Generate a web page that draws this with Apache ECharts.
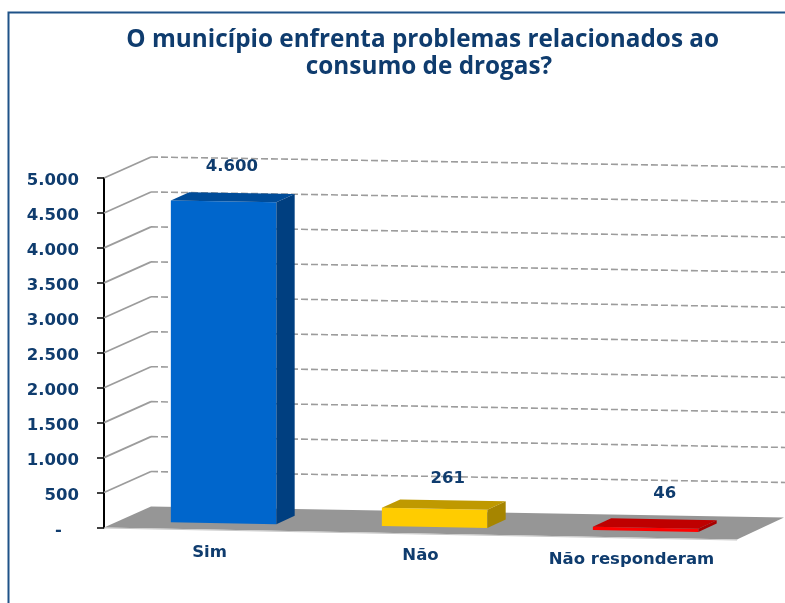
<!DOCTYPE html>
<html><head><meta charset="utf-8">
<style>html,body{margin:0;padding:0;background:#fff}#c{width:785px;height:603px}</style>
<script src="https://cdn.jsdelivr.net/npm/echarts@6/dist/echarts.min.js"></script>
</head><body><div id="c"></div>
<script>
const titleText = 'O município enfrenta problemas relacionados ao  \nconsumo de drogas?';
const categories = ['Sim', 'Não', 'Não responderam'];
const values = [4600, 261, 46];
const valueLabels = ['4.600', '261', '46'];
const gridValues = [500, 1000, 1500, 2000, 2500, 3000, 3500, 4000, 4500, 5000];
const tickLabels = {0:'-', 500:'500', 1000:'1.000', 1500:'1.500', 2000:'2.000', 2500:'2.500', 3000:'3.000', 3500:'3.500', 4000:'4.000', 4500:'4.500', 5000:'5.000'};
const faceColors = [
  ['#0066CC', '#004C99', '#003F80'],
  ['#FFCC00', '#BF9900', '#A68500'],
  ['#FF0000', '#BF0000', '#A80000']
];
const NAVY = '#0F3C6E';
const DEPTH_X = 47, DEPTH_Y = 21;
const labelNudge = [[-1, -26], [4, -21], [10, -25]];
const catPad = [0, 3, 7];

// Oblique projection built on the real axis scales
function projector(api) {
  const o = api.coord([0, 0]);
  const band = api.size([1, 0])[0];
  const left = o[0] - band / 2;
  return function (cat, v, d) {
    const along = cat * band;
    const slope = 0.019 - 0.0016 * d - 0.0016 * v / 5000;
    return [left + along + d * DEPTH_X, api.coord([0, v])[1] + slope * along - d * DEPTH_Y];
  };
}
function poly(points, fill) {
  return {type: 'polygon', shape: {points}, style: {fill, stroke: null}, silent: true};
}

function renderFloor(params, api) {
  const P = projector(api);
  const a = P(0, 0, 0), b = P(0, 0, 1), c = P(3, 0, 1), e = P(3, 0, 0);
  return {type: 'group', children: [
    poly([a, b, c, e], '#969696'),
    {type: 'line', shape: {x1: a[0], y1: a[1] + 0.5, x2: e[0], y2: e[1] + 0.5}, style: {stroke: '#C8C8C8', lineWidth: 1}, silent: true}
  ]};
}
function renderGrid(params, api) {
  const P = projector(api);
  const v = api.value(1);
  const a = P(0, v, 0), b = P(0, v, 1), c = P(3.05, v, 1);
  return {type: 'group', children: [
    {type: 'line', shape: {x1: a[0], y1: a[1], x2: b[0], y2: b[1]}, style: {stroke: '#9C9C9C', lineWidth: 1.8}, silent: true},
    {type: 'line', shape: {x1: b[0], y1: b[1], x2: c[0], y2: c[1]}, style: {stroke: '#9C9C9C', lineWidth: 1.6, lineDash: [7, 3]}, silent: true}
  ]};
}
function renderBar(params, api) {
  const P = projector(api);
  const i = api.value(0), v = api.value(1);
  const c0 = i + 0.25, c1 = i + 0.75, d0 = 0.3, d1 = 0.69;
  const fb = P(c0, 0, d0), fr = P(c1, 0, d0), ft = P(c0, v, d0), frt = P(c1, v, d0);
  const bt = P(c0, v, d1), brt = P(c1, v, d1), br = P(c1, 0, d1);
  const col = faceColors[i];
  const nudge = labelNudge[i];
  return {type: 'group', children: [
    poly([fb, fr, frt, ft], col[0]),
    poly([ft, frt, brt, bt], col[1]),
    poly([fr, br, brt, frt], col[2]),
    {type: 'text', silent: true, style: {
      text: valueLabels[i], x: (bt[0] + frt[0]) / 2 + nudge[0], y: bt[1] + nudge[1],
      fill: NAVY, font: 'bold 16.5px "DejaVu Sans"', align: 'center', verticalAlign: 'middle'
    }}
  ]};
}

const rich = {};
catPad.forEach(function (p, i) {
  rich['c' + i] = {padding: [p, 0, 0, 0], color: NAVY, fontFamily: 'DejaVu Sans', fontWeight: 'bold', fontSize: 16.5};
});

const chart = echarts.init(document.getElementById('c'), null, {renderer: 'canvas'});
chart.setOption({
  animation: false,
  backgroundColor: '#fff',
  title: {
    text: titleText, left: 424, top: 22, textAlign: 'center',
    textStyle: {color: NAVY, fontFamily: 'Open Sans', fontWeight: 'bold', fontSize: 24.3, lineHeight: 27}
  },
  graphic: [{type: 'rect', shape: {x: 8.5, y: 12.5, width: 900, height: 800}, style: {fill: null, stroke: '#1F5288', lineWidth: 2}, silent: true, z: -1}],
  grid: {left: 104, top: 178, width: 633, height: 349.5},
  xAxis: {
    type: 'category', data: categories,
    axisLine: {show: false}, axisTick: {show: false},
    axisLabel: {
      margin: 17, interval: 0,
      formatter: function (n) { const i = categories.indexOf(n); return '{c' + i + '|' + n + '}'; },
      rich: rich
    }
  },
  yAxis: {
    type: 'value', min: 0, max: 5000, interval: 500,
    splitLine: {show: false},
    axisLine: {show: true, onZero: false, lineStyle: {color: '#000', width: 2}},
    axisTick: {show: true, length: 7, lineStyle: {color: '#000', width: 1.5}},
    axisLabel: {
      margin: 25,
      formatter: function (v) { return '{t|' + tickLabels[v] + (v === 0 ? '   ' : '') + '}'; },
      rich: {t: {padding: [6, 0, 0, 0], color: NAVY, fontFamily: 'DejaVu Sans', fontWeight: 'bold', fontSize: 16.5}}
    }
  },
  series: [
    {type: 'custom', name: 'piso', data: [[0, 0]], renderItem: renderFloor, clip: false, z: 1, silent: true},
    {type: 'custom', name: 'grade', data: gridValues.map(function (v) { return [0, v]; }), renderItem: renderGrid, clip: false, z: 2, silent: true},
    {type: 'custom', name: 'respostas', data: values.map(function (v, i) { return [i, v]; }), renderItem: renderBar, clip: false, z: 3, silent: true}
  ]
});
</script></body></html>
